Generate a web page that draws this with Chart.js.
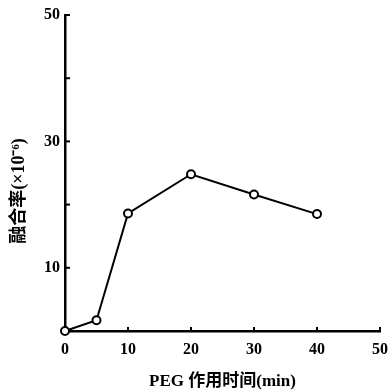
<!DOCTYPE html>
<html>
<head>
<meta charset="utf-8">
<script src="https://cdn.jsdelivr.net/npm/chart.js@4.4.0/dist/chart.umd.min.js"></script>
<style>
  html, body { margin: 0; padding: 0; background: #fff; }
  #wrap { width: 389px; height: 392px; position: relative; }
</style>
</head>
<body>
<div id="wrap"><canvas id="chart"></canvas></div>
<script>
// dati
const tempi = [0, 5, 10, 20, 30, 40];          // min
const fusione = [0, 1.7, 18.6, 24.8, 21.6, 18.5]; // x10^-6
const yLabels = [10, 30, 50];
const xTitle = 'PEG 作用时间(min)';
const yTitle = '融合率(×10⁻⁶)';

const fontFam = '"Liberation Serif", "Noto Sans CJK SC", serif';

// tacche interne sugli assi
const inwardTicks = {
  id: 'inwardTicks',
  afterDraw(chart) {
    const ctx = chart.ctx;
    const x = chart.scales.x, y = chart.scales.y;
    const area = chart.chartArea;
    ctx.save();
    ctx.strokeStyle = '#000';
    ctx.lineWidth = 2;
    for (let v = 10; v <= 50; v += 10) {
      const px = x.getPixelForValue(v);
      ctx.beginPath();
      ctx.moveTo(px, area.bottom);
      ctx.lineTo(px, area.bottom - 4);
      ctx.stroke();
      const py = y.getPixelForValue(v);
      ctx.beginPath();
      ctx.moveTo(area.left, py);
      ctx.lineTo(area.left + 5, py);
      ctx.stroke();
    }
    ctx.restore();
  }
};

new Chart(document.getElementById('chart'), {
  type: 'line',
  data: {
    datasets: [{
      data: tempi.map((t, i) => ({ x: t, y: fusione[i] })),
      borderColor: '#000',
      borderWidth: 2,
      pointRadius: 4,
      pointBorderWidth: 2,
      pointBackgroundColor: '#fff',
      pointBorderColor: '#000',
      tension: 0,
      clip: false
    }]
  },
  options: {
    responsive: true,
    maintainAspectRatio: false,
    animation: false,
    layout: { padding: { top: 15, right: 0, left: 0, bottom: 0 } },
    plugins: { legend: { display: false }, tooltip: { enabled: false } },
    scales: {
      x: {
        type: 'linear',
        min: 0, max: 50,
        ticks: {
          stepSize: 10,
          color: '#000',
          padding: 9,
          font: { family: fontFam, size: 16, weight: 'bold' }
        },
        grid: { display: false, drawTicks: false },
        border: { display: true, color: '#000', width: 2.5 },
        title: {
          display: true, text: xTitle, color: '#000',
          padding: { top: 4, bottom: 0 },
          font: { family: fontFam, size: 17, weight: 'bold' }
        },
        afterFit(scale) { scale.height = 61; scale.paddingRight = 9; }
      },
      y: {
        min: 0, max: 50,
        ticks: {
          stepSize: 10,
          color: '#000',
          padding: 5,
          font: { family: fontFam, size: 16, weight: 'bold' },
          callback: v => yLabels.includes(v) ? v : ''
        },
        grid: { display: false, drawTicks: false },
        border: { display: true, color: '#000', width: 2.5 },
        title: {
          display: true, text: yTitle + '\u2002\u2002\u2002\u2002', color: '#000',
          padding: { top: 9, bottom: 0 },
          font: { family: fontFam, size: 18, weight: 'bold' }
        },
        afterFit(scale) { scale.width = 65; }
      }
    }
  },
  plugins: [inwardTicks]
});
</script>
</body>
</html>
